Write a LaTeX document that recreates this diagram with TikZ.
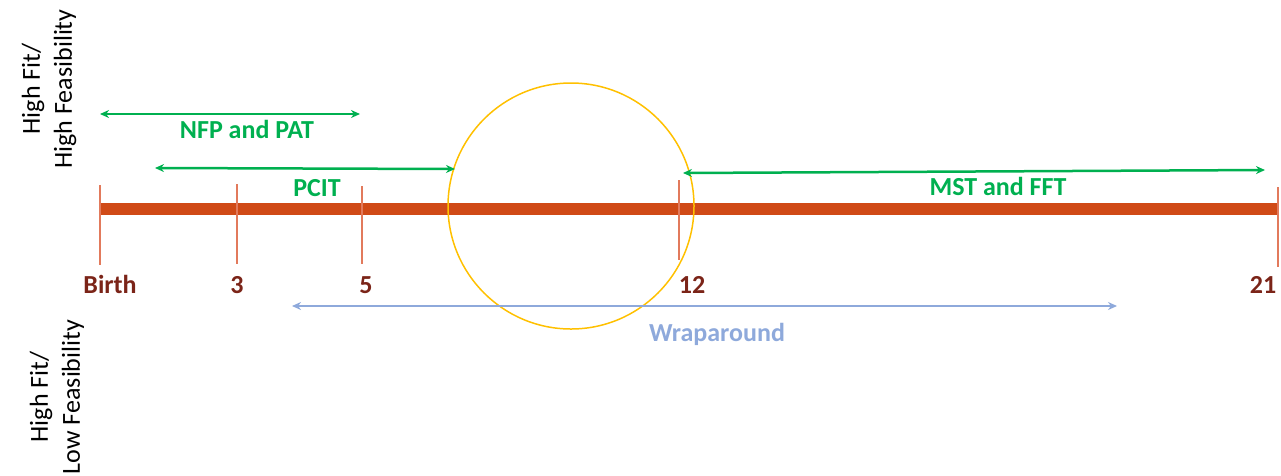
\documentclass[tikz,border=0pt]{standalone}
\usepackage{fontspec}
\setmainfont{Carlito}
\usetikzlibrary{arrows.meta}
\definecolor{barc}{HTML}{D04A17}
\definecolor{tickc}{HTML}{E27A5C}
\definecolor{agec}{HTML}{7B2418}
\definecolor{grn}{HTML}{00B050}
\definecolor{blu}{HTML}{8EA9DB}
\definecolor{ylw}{HTML}{FFC000}
\tikzset{
  tickline/.style={draw=tickc, line width=1.5pt},
  agelab/.style={text=agec, font=\fontsize{26}{30}\selectfont\bfseries, anchor=base, inner sep=0pt},
  glab/.style={text=grn, font=\fontsize{26}{30}\selectfont\bfseries, anchor=base, inner sep=0pt},
  blab/.style={text=blu, font=\fontsize{26}{30}\selectfont\bfseries, anchor=base, inner sep=0pt},
  garrow/.style={draw=grn, line width=2.5pt, {Stealth[length=9pt,width=8pt]}-{Stealth[length=9pt,width=8pt]}},
  barrow/.style={draw=blu, line width=2.5pt, {Stealth[length=9pt,width=8pt]}-{Stealth[length=9pt,width=8pt]}},
  sidelab/.style={rotate=90, align=center, font=\fontsize{26}{32}\selectfont, inner sep=0pt},
  pt/.style={inner sep=0pt, minimum size=0pt}
}
\begin{document}
\begin{tikzpicture}[x=1pt,y=-1pt]
\useasboundingbox (0,0) rectangle (1281,475);
% bar
\coordinate (bs) at (100,209);
\coordinate (be) at (1278,209);
\draw[barc, line width=12pt] (bs) -- (be);
% ticks
\coordinate (t0a) at (100,185); \coordinate (t0b) at (100,265);
\coordinate (t3a) at (237,184); \coordinate (t3b) at (237,264);
\coordinate (t5a) at (362,186); \coordinate (t5b) at (362,264);
\coordinate (t12a) at (679,180); \coordinate (t12b) at (679,260);
\coordinate (t21a) at (1278,187); \coordinate (t21b) at (1278,267);
\draw[tickline] (t0a) -- (t0b);
\draw[tickline] (t3a) -- (t3b);
\draw[tickline] (t5a) -- (t5b);
\draw[tickline] (t12a) -- (t12b);
\draw[tickline] (t21a) -- (t21b);
% age labels
\node[agelab] (lbirth) at (110,293) {Birth};
\node[agelab] (l3) at (237,293) {3};
\node[agelab] (l5) at (366,293) {5};
\node[agelab] (l12) at (692,293) {12};
\node[agelab] (l21) at (1263,293) {21};
% circle
\node[draw=ylw, line width=1.5pt, circle, minimum size=246pt, inner sep=0pt] (circ) at (571,206) {};
% green arrows
\coordinate (nfpA) at (100,114); \coordinate (nfpB) at (360,114);
\draw[garrow] (nfpA) -- (nfpB);
\node[glab] (nfp) at (247,138) {NFP and PAT};
\coordinate (pcA) at (155,168); \coordinate (pcB) at (455,169);
\draw[garrow] (pcA) -- (pcB);
\node[glab] (pcit) at (317,196) {PCIT};
\coordinate (msA) at (683,173); \coordinate (msB) at (1265,170);
\draw[garrow] (msA) -- (msB);
\node[glab] (mst) at (998,195) {MST and FFT};
% wraparound
\coordinate (wA) at (292,306); \coordinate (wB) at (1117,306);
\draw[barrow] (wA) -- (wB);
\node[blab] (wrap) at (717,341) {Wraparound};
% side labels
\node[sidelab] (hh) at (49,89) {High Fit/\\High Feasibility};
\node[sidelab] (hl) at (57,397) {High Fit/\\Low Feasibility};
\end{tikzpicture}
\end{document}
